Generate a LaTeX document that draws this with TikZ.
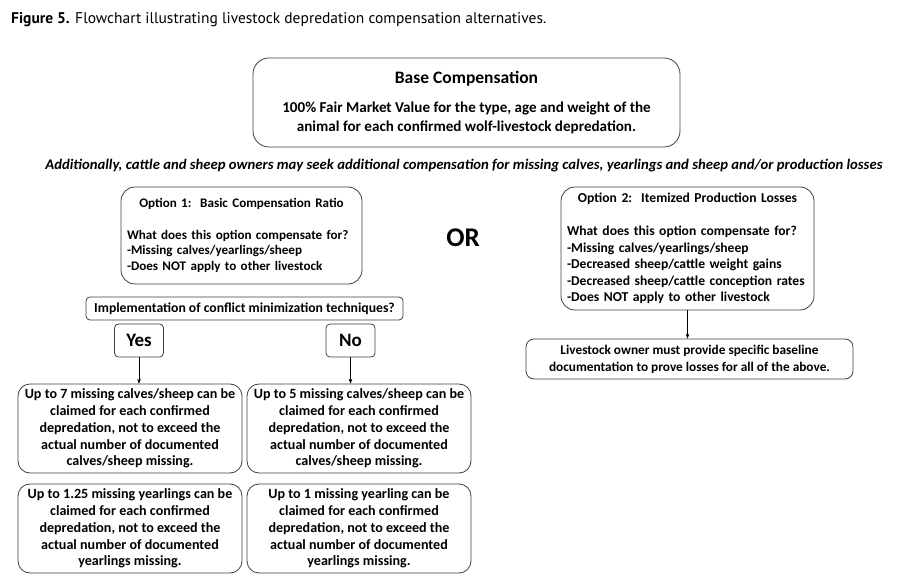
\documentclass[tikz,border=0pt]{standalone}
\usepackage{fontspec}
\setmainfont{Carlito}
\newfontfamily\capfont{PT Sans}
\usepackage{xcolor}
\usetikzlibrary{positioning}
\usetikzlibrary{arrows.meta}
\definecolor{frame}{HTML}{404040}
\tikzset{
  % A rounded box with centred lines
  roundbox/.style={
    draw=frame, line width=0.8pt, fill=white, rounded corners=12pt,
    align=center, font=\bfseries\fontsize{14.1}{16.75}\selectfont,
    inner sep=0pt, minimum width=#1},
  % An option box: centred heading, then a left-aligned list
  optbox/.style={
    draw=frame, line width=0.8pt, fill=white, rounded corners=14pt,
    align=left, font=\bfseries\fontsize{13.1}{15.75}\selectfont,
    inner xsep=6pt, inner ysep=0pt, text width=#1},
  % A small box for the question and the answers
  tagbox/.style={
    draw=frame, line width=0.8pt, fill=white, rounded corners=4pt,
    align=center, font=\bfseries\fontsize{13.7}{15}\selectfont,
    inner sep=0pt, minimum width=#1},
  % Flow of the chart
  flow/.style={-{Stealth[length=1.7mm,width=1.3mm]}, draw=black, line width=0.6pt},
}
\newcommand{\ratiobox}[3]{%
  \node[roundbox=224pt, minimum height=89pt] (#1) at #2 {#3};}

\begin{document}
\begin{tikzpicture}[x=1pt, y=-1pt]
  \useasboundingbox (0,0) rectangle (897,585);

  \node[anchor=base west, inner sep=0pt, font=\capfont\fontsize{15.5}{17}\selectfont]
    (caption) at (11,24) {\textbf{Figure 5.} Flowchart illustrating livestock depredation compensation alternatives.};

  \node[roundbox=427pt, minimum height=89pt, rounded corners=16pt,
        font=\bfseries\fontsize{15.1}{19}\selectfont] (base) at (466.5,102.5)
    {{\fontsize{17.5}{19}\selectfont Base Compensation}\\[10pt]
     100\% Fair Market Value for the type, age and weight of the\\
     animal for each confirmed wolf-livestock depredation.};

  \node[font=\bfseries\itshape\fontsize{14.7}{16}\selectfont, inner sep=0pt] (extra) at (464,166)
    {Additionally, cattle and sheep owners may seek additional compensation for missing calves, yearlings and sheep and/or production losses};

  % option 1
  \node[optbox=229pt, minimum height=97pt] (opt1) at (241.5,235.5)
    {\makebox[\linewidth]{Option 1:\ \ Basic Compensation Ratio}\\[15.75pt]
     What does this option compensate for?\\
     -Missing calves/yearlings/sheep\\
     -Does NOT apply to other livestock};

  \node[font=\bfseries\fontsize{27}{28}\selectfont, inner sep=0pt] (or) at (463,238) {OR};

  \node[tagbox=317pt, minimum height=23pt] (ask) at (244.5,308.5)
    {Implementation of conflict minimization techniques?};
  \node[tagbox=49pt, minimum height=33pt, font=\bfseries\fontsize{19}{20}\selectfont] (yes) at (139,340.5) {Yes};
  \node[tagbox=49pt, minimum height=33pt, font=\bfseries\fontsize{19}{20}\selectfont] (no) at (350.5,340.5) {No};

  \ratiobox{yes7}{(130,428.5)}{Up to 7 missing calves/sheep can be\\ claimed for each confirmed\\
    depredation, not to exceed the\\ actual number of documented\\ calves/sheep missing.}
  \ratiobox{no5}{(359,428.5)}{Up to 5 missing calves/sheep can be\\ claimed for each confirmed\\
    depredation, not to exceed the\\ actual number of documented\\ calves/sheep missing.}
  \ratiobox{yesyr}{(130,528.5)}{Up to 1.25 missing yearlings can be\\ claimed for each confirmed\\
    depredation, not to exceed the\\ actual number of documented\\ yearlings missing.}
  \ratiobox{noyr}{(359,528.5)}{Up to 1 missing yearling can be\\ claimed for each confirmed\\
    depredation, not to exceed the\\ actual number of documented\\ yearlings missing.}

  \draw[flow] (yes.south) -- (yes.south |- yes7.north);
  \draw[flow] (no.south) -- (no.south |- no5.north);

  % option 2
  \node[optbox=241pt, minimum height=123pt, font=\bfseries\fontsize{13.6}{16.5}\selectfont] (opt2) at (687.5,248.5)
    {\makebox[\linewidth]{Option 2:\ \ Itemized Production Losses}\\[16.5pt]
     What does this option compensate for?\\
     -Missing calves/yearlings/sheep\\
     -Decreased sheep/cattle weight gains\\
     -Decreased sheep/cattle conception rates\\
     -Does NOT apply to other livestock};

  \node[roundbox=327pt, minimum height=40pt, rounded corners=8pt,
        font=\bfseries\fontsize{13.3}{17}\selectfont] (owner) at (689.5,359)
    {Livestock owner must provide specific baseline\\
     documentation to prove losses for all of the above.};

  \draw[flow] (opt2.south) -- (opt2.south |- owner.north);

\end{tikzpicture}
\end{document}
